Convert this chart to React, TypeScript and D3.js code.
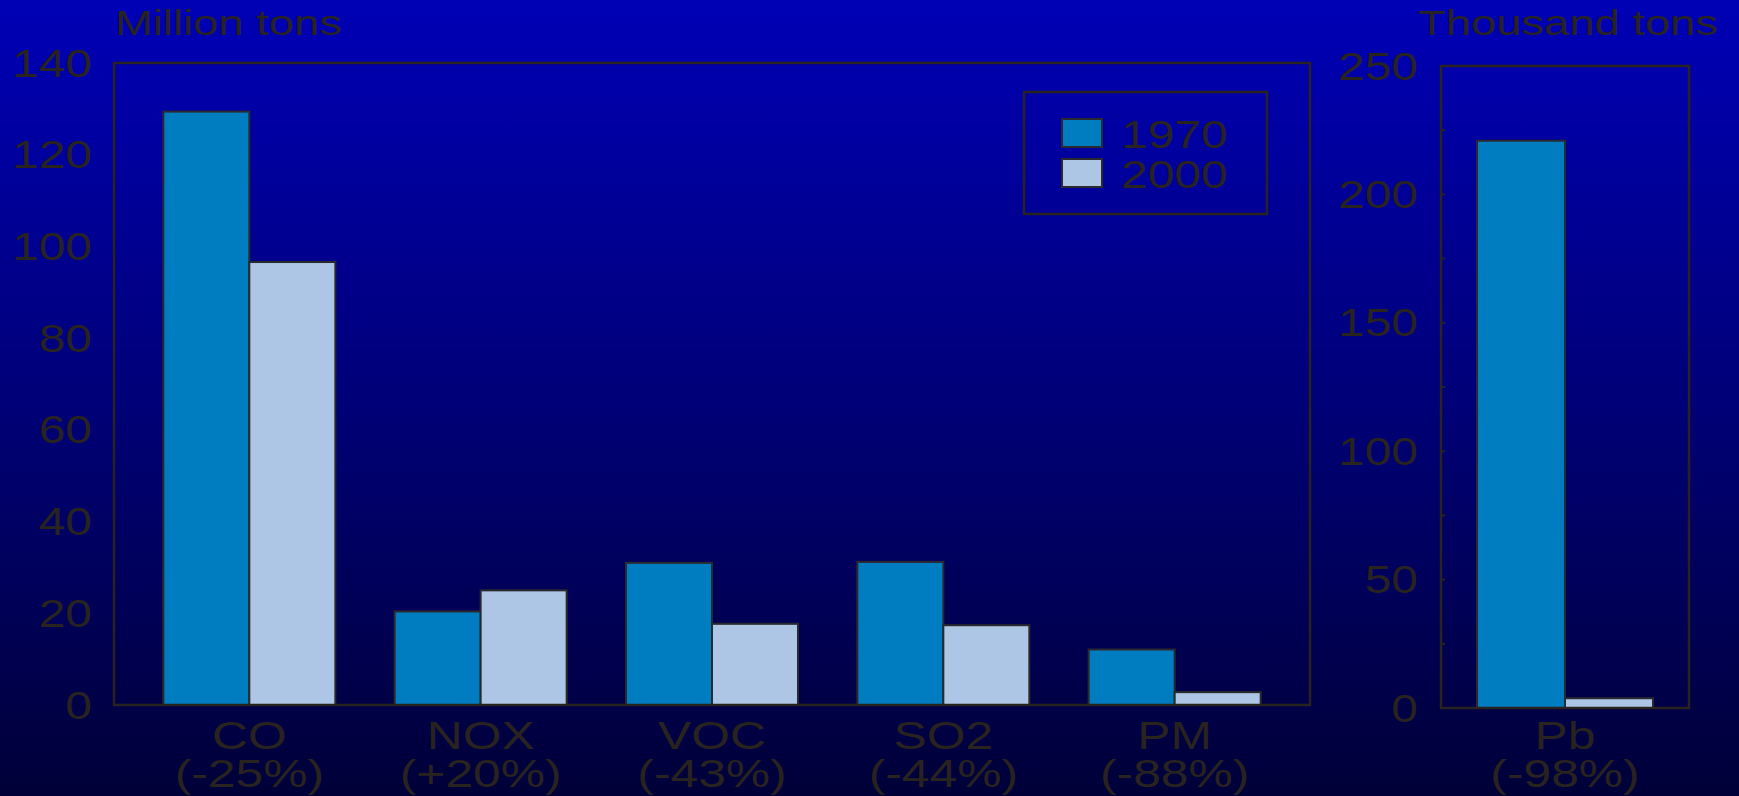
import React from "react";
import * as d3 from "d3";

// Emissions by pollutant, 1970 vs 2000
const categories = ["CO", "NOX", "VOC", "SO2", "PM"];
const changes = ["(-25%)", "(+20%)", "(-43%)", "(-44%)", "(-88%)"];
const years = ["1970", "2000"];
const values1970 = [129.4, 20.4, 31.0, 31.2, 12.1]; // million tons
const values2000 = [96.6, 25.0, 17.7, 17.4, 2.8]; // million tons
const leftTicks = [0, 20, 40, 60, 80, 100, 120, 140];

const leadCategory = ["Pb"];
const leadChange = ["(-98%)"];
const lead1970 = [220.9]; // thousand tons
const lead2000 = [3.8]; // thousand tons
const rightTicks = [0, 50, 100, 150, 200, 250];
const rightMinorTicks = [25, 75, 125, 175, 225];

const W = 1739;
const H = 796;
const INK = "#28231f";
const C1970 = "#007dc1";
const C2000 = "#adc6e6";
const FONT = "'Liberation Sans', Arial, sans-serif";
const SX = 1.26;

function Txt({ x, y, anchor = "start", size = 38, children }: any) {
  return (
    <text
      transform={`translate(${x},${y}) scale(${SX},1)`}
      textAnchor={anchor}
      fontSize={size}
      fontFamily={FONT}
      fill={INK}
    >
      {children}
    </text>
  );
}

export default function App() {
  // left panel
  const L = { x0: 114, x1: 1310, y0: 63, y1: 705 };
  const xL = d3.scalePoint<string>().domain(categories).range([L.x0, L.x1]).padding(0.585);
  const yL = d3.scaleLinear().domain([0, 140]).range([L.y1, L.y0]);
  const barW = 86;
  const subL = d3.scaleBand<string>().domain(years).range([-barW, barW]);

  // right panel
  const R = { x0: 1441, x1: 1689, y0: 66, y1: 708 };
  const xR = d3.scalePoint<string>().domain(leadCategory).range([R.x0, R.x1]).padding(0.5);
  const yR = d3.scaleLinear().domain([0, 250]).range([R.y1, R.y0]);
  const barWR = 88;
  const subR = d3.scaleBand<string>().domain(years).range([-barWR, barWR]);

  const leftBars = categories.flatMap((c, i) => [
    { c, year: "1970", v: values1970[i] },
    { c, year: "2000", v: values2000[i] },
  ]);
  const rightBars = leadCategory.flatMap((c, i) => [
    { c, year: "1970", v: lead1970[i] },
    { c, year: "2000", v: lead2000[i] },
  ]);

  return (
    <svg
      width={W}
      height={H}
      style={{ position: "absolute", left: 0, top: 0, display: "block" }}
    >
      <defs>
        <linearGradient id="bg" x1="0" y1="0" x2="0" y2="1">
          <stop offset="0" stopColor="#0000b6" />
          <stop offset="0.5" stopColor="#000078" />
          <stop offset="1" stopColor="#000038" />
        </linearGradient>
      </defs>
      <rect x={0} y={0} width={W} height={H} fill="url(#bg)" />

      {/* axis titles */}
      <Txt x={115} y={35} size={36}>Million tons</Txt>
      <Txt x={1418} y={35} size={36}>Thousand tons</Txt>

      {/* left panel */}
      {leftBars.map((b, i) => (
        <rect
          key={"l" + i}
          x={(xL(b.c) as number) + (subL(b.year) as number)}
          y={yL(b.v)}
          width={subL.bandwidth()}
          height={yL(0) - yL(b.v)}
          fill={b.year === "1970" ? C1970 : C2000}
          stroke="#2a2a2e"
          strokeWidth={2}
        />
      ))}
      <rect
        x={L.x0}
        y={L.y0}
        width={L.x1 - L.x0}
        height={L.y1 - L.y0}
        fill="none"
        stroke={INK}
        strokeWidth={2.5}
      />
      {leftTicks.map((t) => (
        <Txt key={"lt" + t} x={92} y={yL(t) + 13.5} anchor="end">
          {t}
        </Txt>
      ))}
      {categories.map((c, i) => (
        <g key={"lc" + c}>
          <Txt x={xL(c)} y={749} anchor="middle" size={39.5}>{c}</Txt>
          <Txt x={xL(c)} y={787} anchor="middle" size={39.5}>{changes[i]}</Txt>
        </g>
      ))}

      {/* legend */}
      <rect x={1024} y={92} width={243} height={122} fill="none" stroke={INK} strokeWidth={2.5} />
      {years.map((yr, i) => (
        <g key={"lg" + yr}>
          <rect
            x={1062}
            y={119 + i * 40}
            width={40}
            height={28}
            fill={yr === "1970" ? C1970 : C2000}
            stroke="#2a2a2e"
            strokeWidth={2}
          />
          <Txt x={1121} y={148 + i * 40}>{yr}</Txt>
        </g>
      ))}

      {/* right panel */}
      {rightBars.map((b, i) => (
        <rect
          key={"r" + i}
          x={(xR(b.c) as number) + (subR(b.year) as number)}
          y={yR(b.v)}
          width={subR.bandwidth()}
          height={yR(0) - yR(b.v)}
          fill={b.year === "1970" ? C1970 : C2000}
          stroke="#2a2a2e"
          strokeWidth={2}
        />
      ))}
      <rect
        x={R.x0}
        y={R.y0}
        width={R.x1 - R.x0}
        height={R.y1 - R.y0}
        fill="none"
        stroke={INK}
        strokeWidth={2.5}
      />
      {[...rightTicks, ...rightMinorTicks].map((t) => (
        <line
          key={"rtk" + t}
          x1={R.x0}
          x2={R.x0 + 4}
          y1={yR(t)}
          y2={yR(t)}
          stroke={INK}
          strokeWidth={2}
        />
      ))}
      {rightTicks.map((t) => (
        <Txt key={"rt" + t} x={1418} y={yR(t) + 13.5} anchor="end">
          {t}
        </Txt>
      ))}
      {leadCategory.map((c, i) => (
        <g key={"rc" + c}>
          <Txt x={xR(c)} y={749} anchor="middle" size={39.5}>{c}</Txt>
          <Txt x={xR(c)} y={787} anchor="middle" size={39.5}>{leadChange[i]}</Txt>
        </g>
      ))}
    </svg>
  );
}
